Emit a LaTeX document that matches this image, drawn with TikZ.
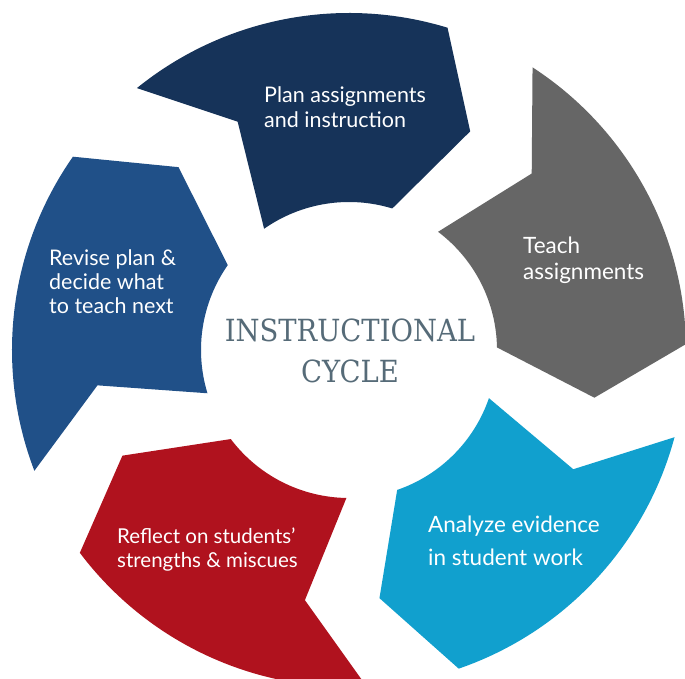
\documentclass[tikz,border=0pt]{standalone}
\usepackage{fontspec}
\setmainfont{Lato}
\newfontfamily\slabfont{DejaVu Serif Condensed}
\definecolor{cnavy}{RGB}{22,51,89}
\definecolor{cgray}{RGB}{102,102,102}
\definecolor{clblue}{RGB}{17,160,206}
\definecolor{cred}{RGB}{176,18,30}
\definecolor{cblue}{RGB}{32,80,136}
\definecolor{ccenter}{RGB}{86,107,120}
\tikzset{
  lbl/.style={text=white, align=left, anchor=base west, inner sep=0pt,
    font=\fontsize{21.5}{25}\selectfont},
  ctr/.style={text=ccenter, align=center, inner sep=0pt,
    font=\slabfont\fontsize{30.5}{41}\selectfont}
}
\newcommand{\cyclesegment}[2]{%
  \fill[#1] ({#2+56}:337pt) arc[start angle={#2+56}, end angle={#2}, radius=337pt]
    -- ({#2-12}:250pt) -- ({#2}:148pt)
    arc[start angle={#2}, end angle={#2+52}, radius=148pt]
    -- ({#2+43}:254pt) -- cycle;}
\begin{document}
\begin{tikzpicture}
\clip (-349pt,-329pt) rectangle (336pt,350pt);
\fill[white] (-349pt,-329pt) rectangle (336pt,350pt);
\cyclesegment{cnavy}{73}
\cyclesegment{cgray}{1}
\cyclesegment{clblue}{-71}
\cyclesegment{cred}{-143}
\cyclesegment{cblue}{145}
\node[lbl] (plan) at (-85pt,222pt) {Plan assignments\\and instruction};
\node[lbl, font=\fontsize{22.5}{26}\selectfont] (teach) at (174pt,70pt) {Teach\\assignments};
\node[lbl, font=\fontsize{22.5}{33}\selectfont] (analyze) at (79pt,-215pt) {Analyze evidence\\in student work};
\node[lbl, font=\fontsize{20.5}{25}\selectfont] (reflect) at (-232pt,-218pt) {Reflect on students’\\strengths \& miscues};
\node[lbl, font=\fontsize{21.5}{24}\selectfont] (revise) at (-300pt,36pt) {Revise plan \&\\decide what\\to teach next};
\node[ctr, anchor=base] (title) at (1pt,-33pt) {INSTRUCTIONAL\\CYCLE};
\end{tikzpicture}
\end{document}
